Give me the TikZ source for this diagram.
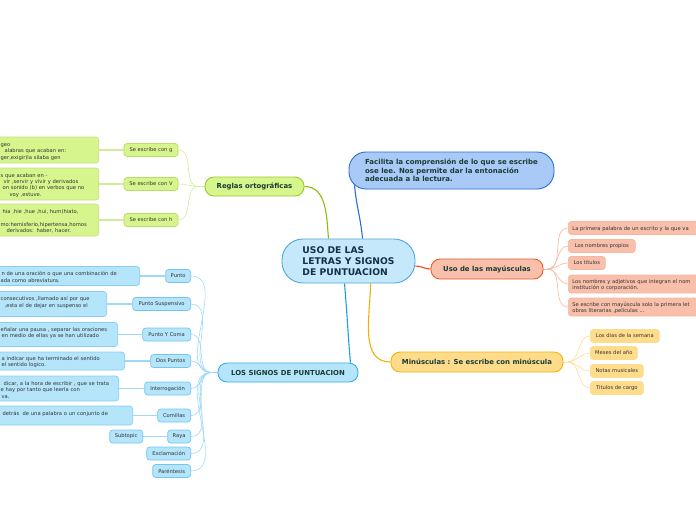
\documentclass[tikz,border=0pt]{standalone}
\usepackage{fontspec}
\setmainfont{DejaVu Sans}
\usetikzlibrary{positioning}

\definecolor{inkmain}{HTML}{1B3B33}
\definecolor{inknavy}{HTML}{12304A}
\definecolor{inkleaf}{HTML}{333333}
\definecolor{cenfill}{HTML}{C5E9FB}\definecolor{cenline}{HTML}{4CA8E0}
\definecolor{facfill}{HTML}{A9C9F7}\definecolor{facline}{HTML}{2B6CD9}
\definecolor{grnfill}{HTML}{D6F58D}\definecolor{grnline}{HTML}{9BCB2A}
\definecolor{grnwire}{HTML}{8DBB10}\definecolor{grnsoft}{HTML}{D3EC9A}
\definecolor{blufill}{HTML}{B4E5FB}\definecolor{bluline}{HTML}{38AEE8}
\definecolor{bluwire}{HTML}{1A9FE6}\definecolor{blusoft}{HTML}{9ED9F6}
\definecolor{redfill}{HTML}{F8BFAA}\definecolor{redline}{HTML}{EE5B2C}
\definecolor{redwire}{HTML}{EE4A1C}\definecolor{redsoft}{HTML}{F8B59C}
\definecolor{yelfill}{HTML}{FEDC8C}\definecolor{yelline}{HTML}{F6B300}
\definecolor{yelwire}{HTML}{F6AE00}\definecolor{yelsoft}{HTML}{FDDC9A}

\pgfdeclarelayer{background}
\pgfsetlayers{background,main}

% una linea de nota, con sangria opcional
\newcommand\fila[2][0]{\par\hbox{\kern#1pt #2}}

\tikzset{
  boxsize/.style 2 args={minimum width=#1pt, minimum height=#2pt},
  hub/.style={draw=cenline, fill=cenfill, line width=0.9pt, rounded corners=21pt,
    boxsize={133}{44}, align=left, text=inknavy, inner sep=0pt,
    font=\bfseries\fontsize{9.2}{11}\selectfont},
  topic/.style={draw, line width=0.9pt, rounded corners=9pt, inner sep=0pt,
    text=inkmain, font=\bfseries\fontsize{6.9}{8}\selectfont},
  sub/.style={draw, line width=0.7pt, rounded corners=3pt, inner sep=0pt,
    text=inkleaf, font=\fontsize{5.2}{6.4}\selectfont},
  note/.style={sub, inner xsep=4pt, inner ysep=0pt},
  wire/.style={draw=#1, line width=1.1pt},
  twig/.style={draw=#1, line width=0.6pt},
  stem/.style={draw=#1, line width=1.4pt}
}

\begin{document}
\begin{tikzpicture}[x=1pt,y=-1pt]
\useasboundingbox (0,0) rectangle (696,520);

% centro y nota de arriba
\node[hub] (uso) at (348.5,261) {USO DE LAS\\LETRAS Y SIGNOS\\DE PUNTUACION};
\node[topic, draw=facline, fill=facfill, boxsize={205}{37}, rounded corners=17pt,
  align=left, text=inkmain, font=\bfseries\fontsize{7}{8.5}\selectfont] (facilita) at (451.5,170.5)
  {Facilita la comprensión de lo que se escribe\\ose lee. Nos permite dar la entonación\\adecuada a la lectura.};

% reglas ortograficas
\node[topic, draw=grnline, fill=grnfill, boxsize={99}{19}] (reglas) at (254.5,186.5) {Reglas ortográficas};
\node[sub, draw=grnline!70, fill=grnfill, boxsize={54}{13}] (cong) at (151,150) {Se escribe con g};
\node[sub, draw=grnline!70, fill=grnfill, boxsize={54}{13}] (conv) at (151,184) {Se escribe con V};
\node[sub, draw=grnline!70, fill=grnfill, boxsize={54}{13}] (conh) at (151,220) {Se escribe con h};
\node[note, draw=grnline!60, fill=grnfill, text width=94pt, minimum height=26pt, anchor=east] (notag) at (99,150)
  {\fila{geo}\fila[4]{alabras que acaban en:}\fila{ger,exigir)la silaba gen}};
\node[note, draw=grnline!60, fill=grnfill, text width=94pt, minimum height=32pt, anchor=east] (notav) at (99,184)
  {\fila{s que acaban en -}\fila[3]{vir ,servir y vivir y derivados}\fila[2]{on sonido (b) en verbos que no}\fila[9]{voy ,estuve.}};
\node[note, draw=grnline!60, fill=grnfill, text width=94pt, minimum height=32pt, anchor=east] (notah) at (99,220)
  {\fila[2]{hia ,hie ,hue ,hui, hum(hiato,}\fila{}\fila{mo:hemisferio,hipertensa,homos}\fila[6]{derivados: haber, hacer.}};

% signos de puntuacion
\node[topic, draw=bluline, fill=blufill, boxsize={140}{19}] (signos) at (288,372.5) {LOS SIGNOS DE PUNTUACION};
\node[sub, draw=bluline!70, fill=blufill, boxsize={25}{13}, anchor=east] (punto) at (191,276) {Punto};
\node[sub, draw=bluline!70, fill=blufill, boxsize={58}{13}, anchor=east] (suspensivo) at (191,304) {Punto Suspensivo};
\node[sub, draw=bluline!70, fill=blufill, boxsize={48}{13}, anchor=east] (ycoma) at (191,334.5) {Punto Y Coma};
\node[sub, draw=bluline!70, fill=blufill, boxsize={40}{13}, anchor=east] (dospuntos) at (191,361) {Dos Puntos};
\node[sub, draw=bluline!70, fill=blufill, boxsize={46}{13}, anchor=east] (interrogacion) at (191,388.5) {Interrogación};
\node[sub, draw=bluline!70, fill=blufill, boxsize={33}{13}, anchor=east] (comillas) at (191,415.5) {Comillas};
\node[sub, draw=bluline!70, fill=blufill, boxsize={23}{13}, anchor=east] (raya) at (191,436.5) {Raya};
\node[sub, draw=bluline!70, fill=blufill, boxsize={44}{13}, anchor=east] (exclamacion) at (191,453.5) {Exclamación};
\node[sub, draw=bluline!70, fill=blufill, boxsize={38}{13}, anchor=east] (parentesis) at (191,471) {Paréntesis};
\node[sub, draw=bluline!70, fill=blufill, boxsize={33}{13}, anchor=east] (subtopic) at (143,436.5) {Subtopic};
\node[note, draw=bluline!60, fill=blufill, text width=135pt, minimum height=19pt, anchor=east] (notapunto) at (140,276)
  {\fila[1]{n de una oración o que una combinación de}\fila{ada como abreviatura.}};
\node[note, draw=bluline!60, fill=blufill, text width=102pt, minimum height=25pt, anchor=east] (notasusp) at (107,304)
  {\fila{consecutivos ,llamado así por que}\fila[4]{,esta el de dejar en suspenso el}\fila{}};
\node[note, draw=bluline!60, fill=blufill, text width=113pt, minimum height=24pt, anchor=east] (notacoma) at (118,334.5)
  {\fila{eñalar una pausa , separar las oraciones}\fila[1]{en medio de ellas ya se han utilizado}\fila{}};
\node[note, draw=bluline!60, fill=blufill, text width=120pt, minimum height=18pt, anchor=east] (notados) at (125,361)
  {\fila[1]{a indicar que ha terminado el sentido}\fila[1]{el sentido logico.}};
\node[note, draw=bluline!60, fill=blufill, text width=114pt, minimum height=25pt, anchor=east] (notainterr) at (119,388.5)
  {\fila[3]{dicar, a la hora de escribir , que se trata}\fila{e hay por tanto que leerla con}\fila[1]{va.}};
\node[note, draw=bluline!60, fill=blufill, text width=128pt, minimum height=19pt, anchor=east] (notacomillas) at (133,415.5)
  {\fila[2]{detrás\ \ de una palabra o un conjunto de}\fila{}};

% mayusculas
\node[topic, draw=redline, fill=redfill, boxsize={112}{20}] (mayus) at (487,269) {Uso de las mayúsculas};
\node[note, draw=redline!45, fill=redfill, text width=200pt, minimum height=13pt, anchor=west] (primera) at (568,228)
  {\fila{La primera palabra de un escrito y la que va}};
\node[sub, draw=redline!45, fill=redfill, boxsize={67}{13}, anchor=west] (propios) at (568,246) {Los nombres propios};
\node[sub, draw=redline!45, fill=redfill, boxsize={37}{13}, anchor=west] (titulos) at (568,263) {Los titulos};
\node[note, draw=redline!45, fill=redfill, text width=200pt, minimum height=18pt, anchor=west] (adjetivos) at (568,284)
  {\fila{Los nombres y adjetivos que integran el nom}\fila{institución o corporación.}};
\node[note, draw=redline!45, fill=redfill, text width=200pt, minimum height=18pt, anchor=west] (obras) at (568,307)
  {\fila{Se escribe con mayúscula solo la primera let}\fila{obras literarias ,películas ...}};

% minusculas
\node[topic, draw=yelline, fill=yelfill, boxsize={172}{20}] (minus) at (477,362) {Minúsculas : Se escribe con minúscula};
\node[sub, draw=yelline!45, fill=yelfill, boxsize={69}{13}, anchor=west] (dias) at (590,336) {Los dias de la semana};
\node[sub, draw=yelline!45, fill=yelfill, boxsize={47}{13}, anchor=west] (meses) at (590,353) {Meses del año};
\node[sub, draw=yelline!45, fill=yelfill, boxsize={53}{13}, anchor=west] (notas) at (590,371) {Notas musicales};
\node[sub, draw=yelline!45, fill=yelfill, boxsize={53}{13}, anchor=west] (cargo) at (590,388) {Titulos de cargo};

\begin{pgfonlayer}{background}
  % ramas principales
  \draw[wire=grnwire] ([xshift=-20pt]uso.north) to[out=95,in=0] (reglas.east);
  \draw[wire=facline] ([xshift=14pt]uso.north) to[out=95,in=-85] ([xshift=6pt,yshift=4pt]facilita.south west);
  \draw[wire=bluwire] ([xshift=-4pt]uso.south) to[out=-85,in=95] ([xshift=-8pt]signos.north east);
  \draw[wire=yelwire] ([xshift=22pt]uso.south) to[out=-90,in=180] (minus.west);
  \draw[wire=redwire] ([yshift=-5pt]uso.east) to[out=0,in=180] (mayus.west);
  % ramas secundarias
  \coordinate (gj) at ([xshift=-6pt]reglas.west);
  \draw[twig=grnsoft] (reglas.west) -- (gj);
  \foreach \c in {cong,conv,conh}
    \draw[twig=grnsoft] (gj) to[out=180,in=0] (\c.east);
  \coordinate (sj) at ([xshift=-6pt]signos.west);
  \draw[twig=blusoft] (signos.west) -- (sj);
  \foreach \c in {punto,suspensivo,ycoma,dospuntos,interrogacion,comillas,raya,exclamacion,parentesis}
    \draw[twig=blusoft] (sj) to[out=180,in=0] (\c.east);
  \coordinate (rj) at ([xshift=4pt]mayus.east);
  \draw[twig=redsoft] (mayus.east) -- (rj);
  \foreach \c in {primera,propios,titulos,adjetivos,obras}
    \draw[twig=redsoft] (rj) to[out=0,in=180] (\c.west);
  \coordinate (yj) at ([xshift=4pt]minus.east);
  \draw[twig=yelsoft] (minus.east) -- (yj);
  \foreach \c in {dias,meses,notas,cargo}
    \draw[twig=yelsoft] (yj) to[out=0,in=180] (\c.west);
  % notas
  \draw[stem=grnsoft] (cong.west) -- (notag.east);
  \draw[stem=grnsoft] (conv.west) -- (notav.east);
  \draw[stem=grnsoft] (conh.west) -- (notah.east);
  \draw[stem=blusoft] (punto.west) -- (notapunto.east);
  \draw[stem=blusoft] (suspensivo.west) -- (notasusp.east);
  \draw[stem=blusoft] (ycoma.west) -- (notacoma.east);
  \draw[stem=blusoft] (dospuntos.west) -- (notados.east);
  \draw[stem=blusoft] (interrogacion.west) -- (notainterr.east);
  \draw[stem=blusoft] (comillas.west) -- (notacomillas.east);
  \draw[stem=blusoft] (raya.west) -- (subtopic.east);
\end{pgfonlayer}
\end{tikzpicture}
\end{document}
